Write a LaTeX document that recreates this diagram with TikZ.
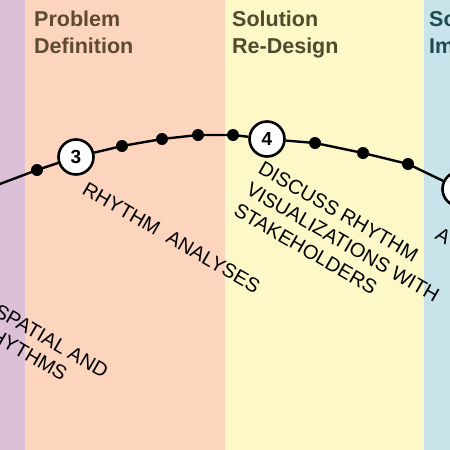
\documentclass[tikz,border=0pt]{standalone}
\usepackage{fontspec}
\setmainfont{Liberation Sans}
\definecolor{bandpurple}{HTML}{DCC0D8}
\definecolor{bandpeach}{HTML}{FDD5BF}
\definecolor{bandyellow}{HTML}{FCF8C8}
\definecolor{bandblue}{HTML}{C8E4EA}
\definecolor{hdrbrown}{HTML}{5C4A32}
\definecolor{hdrolive}{HTML}{4F4B2C}
\definecolor{hdrteal}{HTML}{1E4A50}
\tikzset{
  hdr/.style={font=\bfseries\fontsize{21.5}{27}\selectfont, anchor=north west, align=left, inner sep=0pt},
  stepnum/.style={circle, draw=black, line width=2.6pt, fill=white, minimum size=35pt, inner sep=0pt, font=\bfseries\fontsize{19}{19}\selectfont},
  tick/.style={circle, fill=black, minimum size=12pt, inner sep=0pt},
  lbl/.style={font=\fontsize{20}{24.5}\selectfont, align=left, inner sep=0pt, rotate=-30},
  track/.style={line width=2.4pt, black}
}
\begin{document}
\begin{tikzpicture}[x=1pt,y=-1pt]
\useasboundingbox (0,0) rectangle (450,450);
\begin{scope}
\clip (0,0) rectangle (450,450);
\fill[bandpurple] (0,0) rectangle (25,450);
\fill[bandpeach] (25,0) rectangle (225,450);
\fill[bandyellow] (225,0) rectangle (424,450);
\fill[bandblue] (424,0) rectangle (450,450);
\node[hdr, text=hdrbrown] (h2) at (34,10.5) {Problem\\Definition};
\node[hdr, text=hdrolive] (h3) at (232,10.5) {Solution\\Re-Design};
\node[hdr, text=hdrteal] (h4) at (429,10.5) {Solution\\Implementation};
\coordinate (c0) at (-40,199);
\node[tick] (d1) at (37,170) {};
\node[stepnum] (s3) at (76,157) {3};
\node[tick] (d2) at (122,146) {};
\node[tick] (d3) at (162,139) {};
\node[tick] (d4) at (198,135) {};
\node[tick] (d5) at (233,135) {};
\node[stepnum] (s4) at (267,139) {4};
\node[tick] (d6) at (315,143) {};
\node[tick] (d7) at (363,153) {};
\node[tick] (d8) at (408,164) {};
\node[stepnum] (s5) at (460,189) {5};
\draw[track] (c0) -- (d1.center) -- (s3) -- (d2.center) -- (d3.center) -- (d4.center) -- (d5.center) -- (s4) -- (d6.center) -- (d7.center) -- (d8.center) -- (s5);
\node[lbl, anchor=north west] (t3) at (88,181) {RHYTHM\ \ ANALYSES};
\node[lbl, anchor=north west] (t4) at (264,160) {DISCUSS RHYTHM\\VISUALIZATIONS WITH\\STAKEHOLDERS};
\node[lbl, anchor=south east] (t2a) at (103,379) {SPATIAL AND};
\node[lbl, anchor=south east] (t2b) at (62,382) {HYTHMS};
\node[lbl, anchor=north west] (t5) at (441,226) {A};
\end{scope}
\end{tikzpicture}
\end{document}
